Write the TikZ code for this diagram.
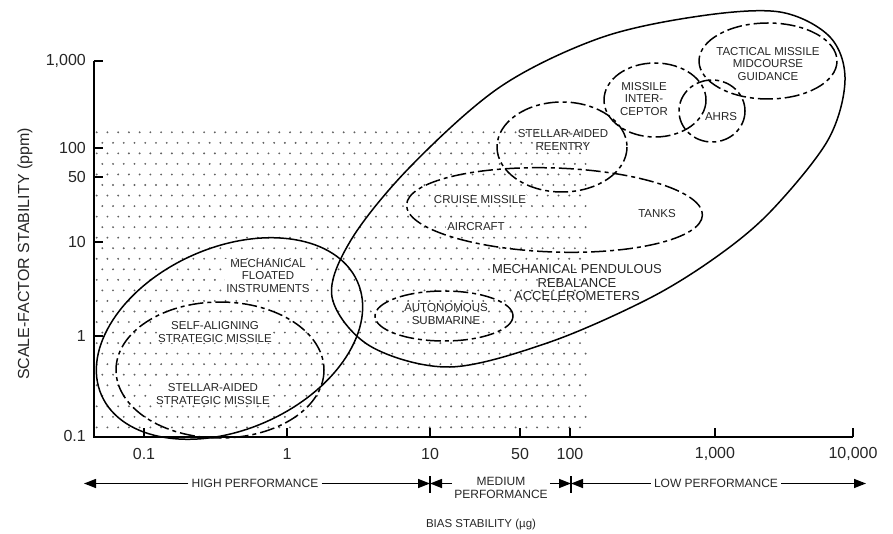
\documentclass[tikz,border=0pt]{standalone}
\usepackage{fontspec}
\setmainfont{Liberation Sans}
\usetikzlibrary{arrows.meta}
\begin{document}
\begin{tikzpicture}[x=1pt,y=-1pt,
  curve/.style={line width=1.5pt},
  dd/.style={line width=1.5pt, dash pattern=on 15pt off 4pt on 4pt off 4pt},
  lbl/.style={font=\fontsize{11.5}{12.3}\selectfont, text=black!85, align=center, inner sep=1pt},
  wlbl/.style={lbl, fill=white},
  tickmark/.style={line width=1.3pt},
  ticklbl/.style={font=\fontsize{16}{17}\selectfont, text=black!85, inner sep=1pt},
  perf/.style={font=\fontsize{12}{12.5}\selectfont, text=black!85, align=center, inner sep=3pt},
  arr/.style={line width=1.4pt, -{Triangle[length=12pt,width=9pt]}},
]
\useasboundingbox (0,0) rectangle (893,534);
% dotted field
\foreach \i in {0,...,28}{
  \pgfmathsetmacro\yy{132.3+10.54*\i}
  \pgfmathsetmacro\xo{mod(\i,2)==1 ? 102.3 : 96.7}
  \foreach \k in {0,...,45}{
    \fill[black!62] ({\xo+10.74*\k},\yy) circle[radius=1.05pt];
  }
}
% axes
\coordinate (O) at (94,437);
\coordinate (ytop) at (94,61);
\coordinate (xend) at (853,437);
\draw[line width=1.5pt] (ytop) -- (O) -- (xend);
\foreach \y/\t [count=\n] in {61/{1,000},148/100,177/50,242/10,336/1}{
  \draw[tickmark] (94,\y) -- (103,\y);
  \node[ticklbl, anchor=east] (yl\n) at (87,\y) {\t};
}
\node[ticklbl, anchor=east] (yl6) at (87,436) {0.1};
\foreach \x/\t [count=\n] in {144/0.1,287/1,430/10,520/50,570/100,715/{1,000},853/{10,000}}{
  \draw[tickmark] (\x,437) -- (\x,428);
  \node[ticklbl] (xl\n) at (\x,454) {\t};
}
\node[font=\fontsize{16}{18}\selectfont, rotate=90, text=black!85] (ylab) at (25,254) {SCALE-FACTOR STABILITY (ppm)};
% envelopes
\draw[curve, rotate around={24:(229.5,338.5)}] (229.5,338.5) ellipse [x radius=140, y radius=91];
\draw[dd] (220,370) ellipse [x radius=104, y radius=68];
\draw[curve] plot[smooth cycle, tension=0.55] coordinates {(332,297) (351,240) (410,167) (500,87) (600,38) (700,16) (780,12) (830,37) (845,80) (828,140) (772,210) (719,255) (650,298) (550,342) (450,367) (370,346)};
\draw[dd] (562,147) ellipse [x radius=65, y radius=45];
\draw[dd] (655,100) ellipse [x radius=51, y radius=37];
\draw[dd] (712,111) ellipse [x radius=33, y radius=31];
\draw[dd] (768,61) ellipse [x radius=69, y radius=38];
\draw[dd, rotate around={-2:(554.5,210)}] (554.5,210) ellipse [x radius=148, y radius=42];
\draw[dd] (444,316) ellipse [x radius=69, y radius=25];
% labels
\node[wlbl] (mfi) at (268,276) {MECHANICAL\\FLOATED\\INSTRUMENTS};
\node[wlbl] (sasm) at (215,332) {SELF-ALIGNING\\STRATEGIC MISSILE};
\node[wlbl] (sastm) at (213,394) {STELLAR-AIDED\\STRATEGIC MISSILE};
\node[lbl] (asub) at (446,314) {AUTONOMOUS\\SUBMARINE};
\node[lbl, font=\fontsize{13}{13.5}\selectfont] (mpra) at (577,283) {MECHANICAL PENDULOUS\\REBALANCE\\ACCELEROMETERS};
\node[wlbl] (cm) at (480,200) {CRUISE MISSILE};
\node[wlbl] (ac) at (476,227) {AIRCRAFT};
\node[lbl] (tk) at (657,214) {TANKS};
\node[lbl] (sar) at (563,140) {STELLAR-AIDED\\REENTRY};
\node[lbl] (mi) at (644,99) {MISSILE\\INTER-\\CEPTOR};
\node[lbl] (ahrs) at (721,117) {AHRS};
\node[lbl] (tmmg) at (768,64) {TACTICAL MISSILE\\MIDCOURSE\\GUIDANCE};
% performance bands
\node[perf] (hp) at (255,483) {HIGH PERFORMANCE};
\node[perf, inner sep=2pt] (mp) at (501,488) {MEDIUM\\PERFORMANCE};
\node[perf] (lp) at (716,483) {LOW PERFORMANCE};
\coordinate (a1) at (84,483.5);
\coordinate (s1) at (430,483.5);
\coordinate (s2) at (571,483.5);
\coordinate (a6) at (866,483.5);
\draw[line width=1.3pt] (430,476) -- (430,493);
\draw[line width=1.3pt] (571,476) -- (571,493);
\draw[arr] (hp.west |- a1) -- (a1);
\draw[arr] (hp.east |- a1) -- (s1);
\draw[arr] (mp.west |- a1) -- (s1);
\draw[arr] (mp.east |- a1) -- (s2);
\draw[arr] (lp.west |- a1) -- (s2);
\draw[arr] (lp.east |- a1) -- (a6);
\node[font=\fontsize{11.5}{13}\selectfont, text=black!85] (bias) at (481,525) {BIAS STABILITY (µg)};
\end{tikzpicture}
\end{document}
